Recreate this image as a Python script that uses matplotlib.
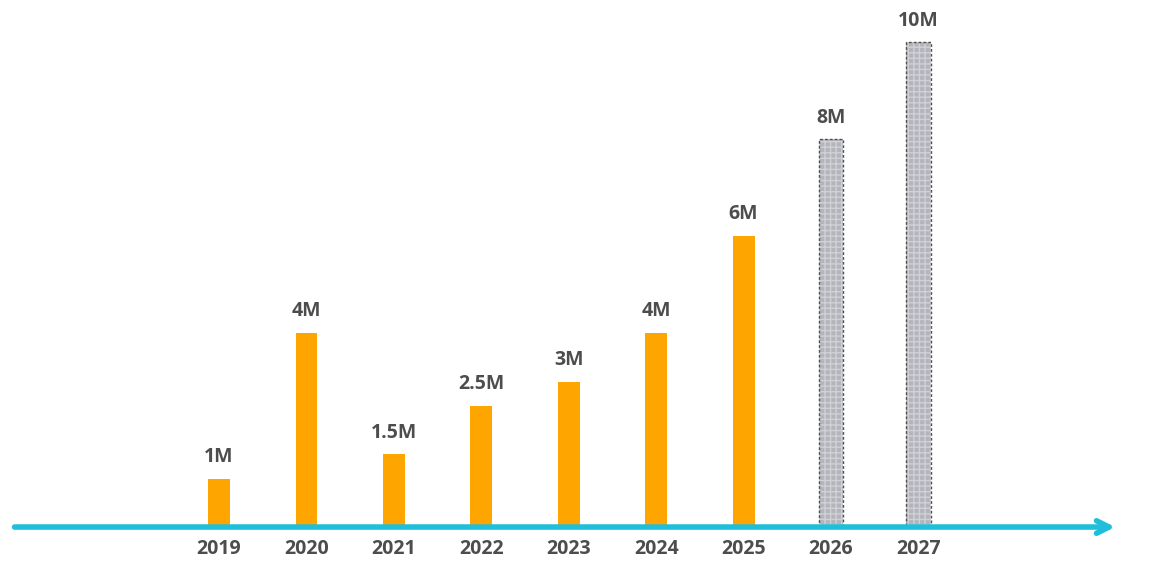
import matplotlib.pyplot as plt
import numpy as np

years = ['2019', '2020', '2021', '2022', '2023', '2024', '2025', '2026', '2027']
values = [1, 4, 1.5, 2.5, 3, 4, 6, 8, 10]
labels = ['1M', '4M', '1.5M', '2.5M', '3M', '4M', '6M', '8M', '10M']
forecast = [False, False, False, False, False, False, False, True, True]

plt.rcParams['font.family'] = ['Open Sans', 'DejaVu Sans']

fig = plt.figure(figsize=(11.72, 5.71), dpi=100)
ax = fig.add_axes([0, 0, 1, 1])
ax.set_xlim(-2.506, 10.90)
ax.set_ylim(-0.907, 10.87)
ax.axis('off')

x = np.arange(len(years))
text_col = '#4d4d4d'

for i in range(len(years)):
    if forecast[i]:
        # grey hatched projection bars with dashed outline
        ax.bar(x[i], values[i], width=0.28, color='#b4b4bc', edgecolor='#d0d0d6',
               linewidth=0, hatch='+++', zorder=2)
        ax.bar(x[i], values[i], width=0.28, fill=False, edgecolor='#505050',
               linewidth=1.0, linestyle=(0, (2, 1.5)), zorder=3)
    else:
        ax.bar(x[i], values[i], width=0.25, color='#ffa500', linewidth=0, zorder=2)
    ax.text(x[i], values[i] + 0.24, labels[i], ha='center', va='bottom',
            fontsize=14, fontweight='bold', color=text_col)
    ax.text(x[i], -0.45, years[i], ha='center', va='center',
            fontsize=14, fontweight='bold', color=text_col)

# timeline arrow
ax.annotate('', xy=(10.25, 0), xytext=(-2.34, 0),
            arrowprops=dict(arrowstyle='->,head_length=0.9,head_width=0.45',
                            color='#1fbfd9', lw=4, capstyle='round',
                            joinstyle='round', shrinkA=0, shrinkB=0),
            zorder=4)

fig.savefig('out.png', dpi=100)
